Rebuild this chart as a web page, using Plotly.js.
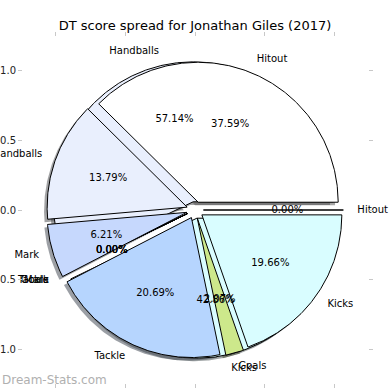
<!DOCTYPE html>
<html>
<head>
<meta charset="utf-8">
<script src="https://cdn.plot.ly/plotly-3.0.1.min.js"></script>
<style>html,body{margin:0;padding:0;background:#fff;}#chart{width:390px;height:390px;}</style>
</head>
<body>
<div id="chart"></div>
<script>
// ---- data ----
const categories = ['Hitout', 'Handballs', 'Mark', 'Tackle', 'Goals', 'Kicks'];
const categoryColors = ['#ffffff', '#e9effd', '#c6d8fd', '#b6d5fe', '#cde88b', '#d9fdff'];
// first pie drawn (underneath)
const underPieValues = [0, 4, 0, 0, 0, 3];
// second pie drawn on top (DT points per stat, 2017)
const topPieValues = [109, 40, 18, 60, 6, 57];
const yTickValues = [-1, -0.5, 0, 0.5, 1];
const yTickLabels = ['\u22121.0', '\u22120.5', '0.0', '0.5', '1.0'];
const xTickValues = [-1, -0.5, 0, 0.5, 1];
const xTickLabels = ['\u22121.0', '\u22120.5', '0.0', '0.5', '1.0'];

// ---- styling constants ----
const EXPLODE = 0.06, SHADOW = 0.022, PCT_DIST = 0.6, LABEL_DIST = 1.1;
const FONT = 'DejaVu Sans, Liberation Sans, sans-serif';

function hexToRgb(h){h=h.replace('#','');return [parseInt(h.substr(0,2),16),parseInt(h.substr(2,2),16),parseInt(h.substr(4,2),16)];}

function buildPie(values){
  const total = values.reduce((a,b)=>a+b,0);
  let cum = 0;
  return values.map((v,i)=>{
    const a1 = cum/total*2*Math.PI; cum += v; const a2 = cum/total*2*Math.PI;
    const mid = (a1+a2)/2;
    const cx = EXPLODE*Math.cos(mid), cy = EXPLODE*Math.sin(mid);
    const xs=[cx], ys=[cy];
    const n = Math.max(1, Math.ceil((a2-a1)/(Math.PI/360)));
    for(let k=0;k<=n;k++){const a=a1+(a2-a1)*k/n; xs.push(cx+Math.cos(a)); ys.push(cy+Math.sin(a));}
    xs.push(cx); ys.push(cy);
    return {i, xs, ys, pct:(v/total*100).toFixed(2)+'%',
      px: cx+PCT_DIST*Math.cos(mid), py: cy+PCT_DIST*Math.sin(mid),
      lx: cx+LABEL_DIST*Math.cos(mid), ly: cy+LABEL_DIST*Math.sin(mid)};
  });
}

const pies = [buildPie(underPieValues), buildPie(topPieValues)];
const traces = [];
// shadows first
pies.forEach(p=>p.forEach(w=>{
  const c = hexToRgb(categoryColors[w.i]).map(v=>Math.round(v*0.3));
  traces.push({type:'scatter', mode:'lines', x:w.xs.map(x=>x-SHADOW), y:w.ys.map(y=>y-SHADOW),
    fill:'toself', fillcolor:`rgba(${c[0]},${c[1]},${c[2]},0.5)`, line:{width:0, color:'rgba(0,0,0,0)'}, hoverinfo:'skip'});
}));
// wedges
pies.forEach(p=>p.forEach(w=>{
  traces.push({type:'scatter', mode:'lines', x:w.xs, y:w.ys, fill:'toself',
    fillcolor:categoryColors[w.i], line:{width:1, color:'#000'}, hoverinfo:'skip'});
}));
// texts
const lblL={x:[],y:[],t:[]}, lblR={x:[],y:[],t:[]}, pct={x:[],y:[],t:[]};
pies.forEach(p=>p.forEach(w=>{
  const tgt = w.lx>0 ? lblL : lblR;
  tgt.x.push(w.lx); tgt.y.push(w.ly); tgt.t.push(categories[w.i]);
  pct.x.push(w.px); pct.y.push(w.py); pct.t.push(w.pct);
}));
const tf = {family:FONT, size:10, color:'#000'};
traces.push({type:'scatter', mode:'text', x:lblL.x, y:lblL.y, text:lblL.t, textposition:'middle right', textfont:tf, cliponaxis:false, hoverinfo:'skip'});
traces.push({type:'scatter', mode:'text', x:lblR.x, y:lblR.y, text:lblR.t, textposition:'middle left', textfont:tf, cliponaxis:false, hoverinfo:'skip'});
traces.push({type:'scatter', mode:'text', x:pct.x, y:pct.y, text:pct.t, textposition:'middle center', textfont:tf, cliponaxis:false, hoverinfo:'skip'});

const axisCommon = {showgrid:false, zeroline:false, showline:false, ticks:'outside', ticklen:4, tickwidth:1,
  tickcolor:'#c8c8c8', mirror:'ticks', tickfont:{family:FONT, size:10, color:'#222'}, fixedrange:true};
const layout = {
  width:390, height:390, paper_bgcolor:'#fff', plot_bgcolor:'rgba(0,0,0,0)', showlegend:false,
  margin:{l:23, r:22, t:37, b:7},
  title:{text:'DT score spread for Jonathan Giles (2017)', x:0.5, xref:'container', xanchor:'center',
    y:1-25/390, yref:'container', yanchor:'middle', font:{family:FONT, size:13, color:'#000'}},
  xaxis:Object.assign({}, axisCommon, {range:[-1.229, 1.236], tickvals:xTickValues, ticktext:xTickLabels}),
  yaxis:Object.assign({}, axisCommon, {range:[-1.236, 1.236], tickvals:yTickValues, ticktext:yTickLabels}),
  annotations:[{text:'Dream-Stats.com', xref:'paper', yref:'paper', x:-23/345, y:(383-380)/346,
    xanchor:'left', yanchor:'middle', showarrow:false, font:{family:FONT, size:12, color:'#b0b0b0'}}]
};
Plotly.newPlot('chart', traces, layout, {staticPlot:true, displayModeBar:false});
</script>
</body>
</html>
